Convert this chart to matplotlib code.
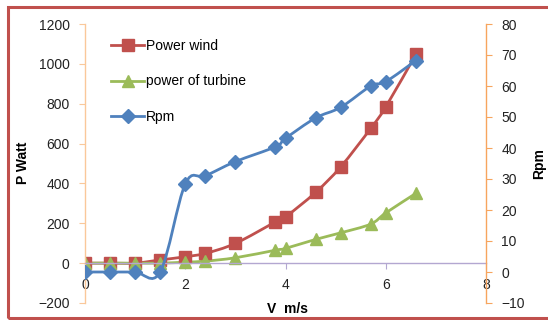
import matplotlib.pyplot as plt
import numpy as np
from matplotlib.path import Path
from matplotlib.patches import PathPatch, Rectangle
from matplotlib.lines import Line2D

plt.rcParams['font.family'] = ['Liberation Sans', 'DejaVu Sans']

# data
v = [0, 0.5, 1, 1.5, 2, 2.4, 3, 3.8, 4, 4.6, 5.1, 5.7, 6, 6.6]
power_wind = [0, 0, 0, 16, 32, 49, 99, 207, 232, 355, 483, 676, 784, 1047]
power_turbine = [0, 0, 0, 0, 5, 10, 27, 65, 74, 119, 152, 196, 252, 350]
rpm = [0, 0, 0, 0, 28.4, 31, 35.6, 40.4, 43.1, 49.7, 53.1, 60, 61.4, 68.2]

red = '#C0504D'
green = '#9BBB59'
blue = '#4F81BD'


def smooth_path(x, y):
    # excel style smoothed line (bezier through the points)
    pts = np.column_stack([x, y]).astype(float)
    n = len(pts)
    verts = [pts[0]]
    codes = [Path.MOVETO]
    for i in range(n - 1):
        p0 = pts[max(i - 1, 0)]
        p1 = pts[i]
        p2 = pts[i + 1]
        p3 = pts[min(i + 2, n - 1)]
        verts += [p1 + (p2 - p0) / 6, p2 - (p3 - p1) / 6, p2]
        codes += [Path.CURVE4] * 3
    return Path(verts, codes)


fig = plt.figure(figsize=(5.48, 3.2), dpi=100)
ax = fig.add_axes([85 / 548, 1 - 303 / 320, 401 / 548, 279 / 320])
ax2 = ax.twinx()

ax.add_patch(PathPatch(smooth_path(v, power_wind), fill=False, ec=red, lw=2))
ax.plot(v, power_wind, ls='none', marker='s', ms=8.5, color=red)
ax.add_patch(PathPatch(smooth_path(v, power_turbine), fill=False, ec=green, lw=2))
ax.plot(v, power_turbine, ls='none', marker='^', ms=9, color=green)
ax2.add_patch(PathPatch(smooth_path(v, rpm), fill=False, ec=blue, lw=2))
ax2.plot(v, rpm, ls='none', marker='D', ms=7.5, color=blue)

ax.set_xlim(0, 8)
ax.set_ylim(-200, 1200)
ax2.set_ylim(-10, 80)
ax.set_xticks([0, 2, 4, 6, 8])
ax.set_yticks(np.arange(-200, 1201, 200))
ax2.set_yticks(np.arange(-10, 81, 10))

for s in ['top', 'right']:
    ax.spines[s].set_visible(False)
for s in ['top', 'left', 'bottom']:
    ax2.spines[s].set_visible(False)
ax.spines['bottom'].set_position(('data', 0))
ax.spines['bottom'].set_color('#B3A7D1')
ax.spines['left'].set_color('#FAC89A')
ax2.spines['right'].set_color('#F7A55E')
for s in ['left', 'bottom']:
    ax.spines[s].set_linewidth(1)
ax2.spines['right'].set_linewidth(1)

ax.tick_params(axis='x', direction='out', length=4, color='#B3A7D1', pad=7, labelsize=10, labelcolor='#222222')
ax.tick_params(axis='y', direction='out', length=4, color='#FAC89A', pad=7, labelsize=10, labelcolor='#222222')
ax2.tick_params(axis='y', direction='out', length=4, color='#F7A55E', pad=7, labelsize=10, labelcolor='#222222')

fig.text(23 / 548, 1 - 163 / 320, 'P Watt', rotation=90, fontsize=10, fontweight='bold', ha='center', va='center')
fig.text(539 / 548, 1 - 164 / 320, 'Rpm', rotation=90, fontsize=10, fontweight='bold', ha='center', va='center')
fig.text(287 / 548, 1 - 309 / 320, 'V  m/s', fontsize=10, fontweight='bold', ha='center', va='center')

handles = [
    Line2D([], [], color=red, lw=2, marker='s', ms=8.5),
    Line2D([], [], color=green, lw=2, marker='^', ms=9),
    Line2D([], [], color=blue, lw=2, marker='D', ms=7.5),
]
fig.legend(handles, ['Power wind', 'power of turbine', 'Rpm'], loc='upper left',
           bbox_to_anchor=(104 / 548, 1 - 32 / 320), frameon=False, fontsize=10,
           handlelength=2.4, handletextpad=0.1, labelspacing=1.55, borderpad=0)

# chart border (right side runs off the picture)
fig.patches.append(Rectangle((8 / 548, 2 / 320), 1.05, 311 / 320,
                             transform=fig.transFigure, fill=False, ec=red, lw=2.2))

fig.savefig('out.png', dpi=100)
